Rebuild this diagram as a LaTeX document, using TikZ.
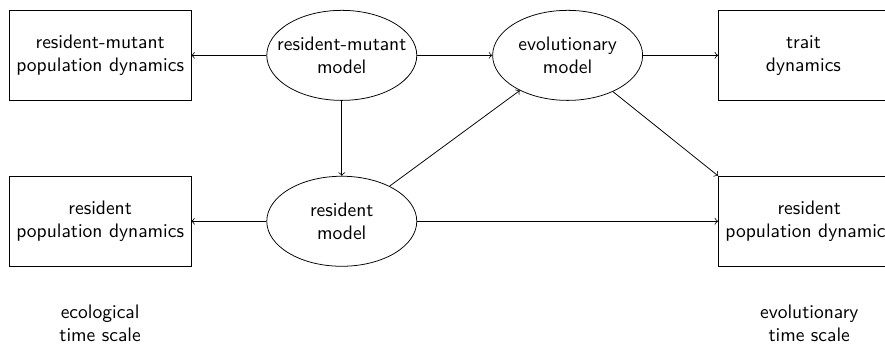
\documentclass[tikz,border=0pt]{standalone}
\usetikzlibrary{positioning,shapes.geometric}
\begin{document}
\begin{tikzpicture}[box/.style={draw,rectangle,align=center,font=\sffamily\fontsize{10.2}{12}\selectfont,inner xsep=3.6pt,minimum width=88.7pt,minimum height=47pt},model/.style={draw,ellipse,align=center,font=\sffamily\fontsize{10.2}{12}\selectfont,inner xsep=-6.7pt,minimum width=78.3pt,minimum height=47pt},timescale/.style={align=center,font=\sffamily\fontsize{10.2}{12}\selectfont},node distance={39.2pt}]
                \node[box](rmpd){resident-mutant\\population dynamics};
                \node[model](rmm)[right=of rmpd]{resident-mutant\\model};
                \node[model](evo)[right=of rmm]{evolutionary\\model};
                \node[box](trait)[right=of evo]{trait\\dynamics};
                \node[box](rpd)[below=of rmpd]{resident\\population dynamics};
                \node[model](rm)[below=of rmm]{resident\\model};
                \node[box](rpde)[below=of trait.south west,anchor=north west]{resident\\population dynamics};
                \node[timescale](eco)[below=16.5pt of rpd]{ecological\\time scale};
                \node[timescale](evts)[below=16.5pt of rpde]{evolutionary\\time scale};
                \draw[->](rmm) -- (rmpd);
                \draw[->](rmm) -- (evo);
                \draw[->](evo) -- (trait);
                \draw[->](rmm) -- (rm);
                \draw[->](rm) -- (rpd);
                \draw[->](rm) -- (evo);
                \draw[->](evo) -- (rpde.north west);
                \draw[->](rm) -- (rpde);
                \pgfresetboundingbox
                \useasboundingbox ([xshift=-4.7pt,yshift=5.2pt]rmpd.north west) rectangle ++(462pt,-180.1pt);
            \end{tikzpicture}
\end{document}
